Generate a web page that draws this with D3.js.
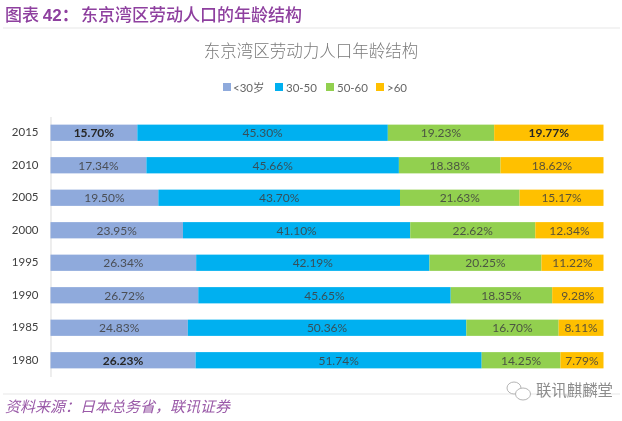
<!DOCTYPE html>
<html lang="zh-CN">
<head>
<meta charset="utf-8">
<script src="https://cdnjs.cloudflare.com/ajax/libs/d3/7.8.5/d3.min.js"></script>
<style>
  html, body { margin: 0; padding: 0; background: #fff; }
  text { font-family: Lato, "Noto Sans CJK SC", sans-serif; }
  .cjk { font-family: "Noto Sans CJK SC", sans-serif; }
</style>
</head>
<body>
<svg id="chart" width="622" height="421"></svg>
<script>
// Chart data
const years = ["2015", "2010", "2005", "2000", "1995", "1990", "1985", "1980"];
const groups = ["<30岁", "30-50", "50-60", ">60"];
const under30 = [15.70, 17.34, 19.50, 23.95, 26.34, 26.72, 24.83, 26.23];
const age30to50 = [45.30, 45.66, 43.70, 41.10, 42.19, 45.65, 50.36, 51.74];
const age50to60 = [19.23, 18.38, 21.63, 22.62, 20.25, 18.35, 16.70, 14.25];
const over60 = [19.77, 18.62, 15.17, 12.34, 11.22, 9.28, 8.11, 7.79];
const colors = ["#8faadc", "#00b0f0", "#92d050", "#ffc000"];

// these labels are bold in the original
const boldLabels = ["2015|<30岁", "2015|>60", "1980|<30岁"];

// full width colon and comma
const colon = "\uFF1A";
const comma = "\uFF0C";

const svg = d3.select("#chart");

// The reference is a slightly soft scan, so soften everything a touch
svg.append("defs").append("filter").attr("id", "soft")
    .append("feGaussianBlur").attr("stdDeviation", 0.35);
const page = svg.append("g").attr("filter", "url(#soft)");
page.append("rect").attr("width", 622).attr("height", 421).attr("fill", "#fff");

// Build rows for the stack
const rows = years.map((year, i) => ({
    year: year,
    "<30岁": under30[i],
    "30-50": age30to50[i],
    "50-60": age50to60[i],
    ">60": over60[i]
}));
const series = d3.stack().keys(groups)(rows);

const x = d3.scaleLinear().domain([0, 100]).range([50.5, 603.5]);
const y = d3.scaleBand().domain(years).range([116.5, 376.5]).paddingInner(0.5).paddingOuter(0.25);
const color = d3.scaleOrdinal().domain(groups).range(colors);

// Page heading and footer rules
page.append("line").attr("x1", 3).attr("x2", 620).attr("y1", 28).attr("y2", 28)
    .attr("stroke", "#e8e8e8").attr("stroke-width", 1.2);
page.append("line").attr("x1", 3).attr("x2", 620).attr("y1", 394).attr("y2", 394)
    .attr("stroke", "#e8e8e8").attr("stroke-width", 1.2);

const heading = page.append("text").attr("class", "cjk").attr("x", 5).attr("y", 21)
    .attr("fill", "#8e3f9f").attr("font-size", 17).attr("font-weight", 500);
heading.append("tspan").text("图表 ");
heading.append("tspan").attr("font-weight", "bold").attr("font-family", "Liberation Sans").text("42");
heading.append("tspan").attr("font-weight", "bold").text(colon);
heading.append("tspan").attr("x", 81).text("东京湾区劳动人口的年龄结构");

page.append("text").attr("class", "cjk").attr("x", 311).attr("y", 57)
    .attr("text-anchor", "middle").attr("fill", "#7a7a7a")
    .attr("font-size", 16.5).attr("font-weight", 300)
    .text("东京湾区劳动力人口年龄结构");

page.append("text").attr("class", "cjk").attr("x", 5).attr("y", 412)
    .attr("fill", "#9a5aa8").attr("font-size", 15).attr("font-style", "italic")
    .text("资料来源" + colon + "日本总务省" + comma + "联讯证券");

// Legend
const legendX = d3.scaleOrdinal().domain(groups).range([223, 275, 326, 376]);
const legend = page.append("g").selectAll("g").data(groups).join("g")
    .attr("transform", d => `translate(${legendX(d)},83)`);
legend.append("rect").attr("width", 8).attr("height", 8).attr("fill", d => color(d));
legend.append("text").attr("x", d => d === groups[0] ? 10 : 11).attr("y", 8.5)
    .attr("font-size", 11.5).attr("fill", "#666").text(d => d);

// Year axis
const axis = page.append("g").attr("transform", "translate(50.5,0)")
    .call(d3.axisLeft(y).tickSize(0).tickPadding(12));
axis.select(".domain").attr("stroke", "#e2e2e2").attr("stroke-width", 1.2);
axis.selectAll("text").attr("font-family", "Lato").attr("font-size", 11.5).attr("fill", "#404040");

// Bars, one group per age band
const layers = page.append("g").selectAll("g").data(series).join("g")
    .attr("fill", d => color(d.key));

layers.selectAll("rect").data(d => d).join("rect")
    .attr("x", d => x(d[0]))
    .attr("y", d => y(d.data.year))
    .attr("width", d => Math.min(x(d[1]), x.range()[1]) - x(d[0]))
    .attr("height", y.bandwidth());

// Value labels in the middle of each segment
layers.each(function (s) {
    d3.select(this).selectAll("text").data(s).join("text")
        .attr("x", d => (x(d[0]) + Math.min(x(d[1]), x.range()[1])) / 2)
        .attr("y", d => y(d.data.year) + y.bandwidth() / 2 + 4.5)
        .attr("text-anchor", "middle")
        .attr("font-size", 12)
        .attr("font-weight", d => boldLabels.includes(d.data.year + "|" + s.key) ? "bold" : "normal")
        .attr("fill", d => boldLabels.includes(d.data.year + "|" + s.key) ? "#262626" : "#404040")
        .attr("fill-opacity", d => boldLabels.includes(d.data.year + "|" + s.key) ? 1 : 0.85)
        .text(d => d.data[s.key].toFixed(2) + "%");
});

// Watermark
const mark = page.append("g").attr("fill", "#fff").attr("stroke", "#b5b5b5").attr("stroke-width", 1);
mark.append("ellipse").attr("cx", 514).attr("cy", 388).attr("rx", 7).attr("ry", 6);
mark.append("ellipse").attr("cx", 523).attr("cy", 394).attr("rx", 7.5).attr("ry", 6);
page.append("text").attr("class", "cjk").attr("x", 536).attr("y", 396)
    .attr("font-size", 15.4).attr("fill", "#8c8c8c").text("联讯麒麟堂");
</script>
</body>
</html>
